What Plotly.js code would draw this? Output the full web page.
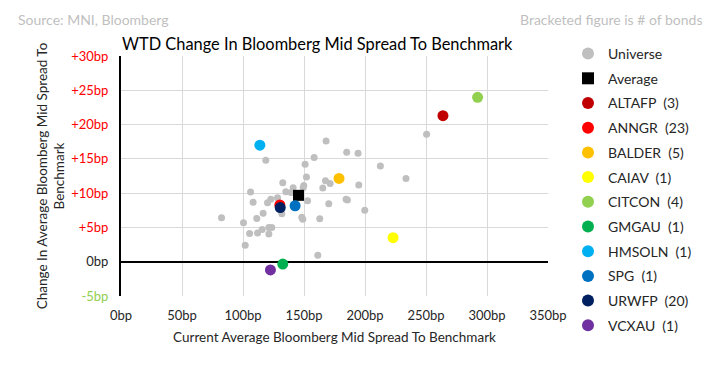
<!DOCTYPE html>
<html><head><meta charset="utf-8">
<script src="https://cdn.plot.ly/plotly-3.0.1.min.js"></script>
<style>body{margin:0;padding:0;background:#fff}#chart{width:706px;height:377px}</style>
</head><body><div id="chart"></div>
<script>
// Universe (grey) points: current spread (bp) and WTD change (bp)
const universeX = [168.1,118.7,158.3,150.9,152.0,167.6,171.4,165.4,149.8,149.3,132.6,141.1,135.1,139.4,106.2,108.3,120.1,122.8,128.3,152.9,170.3,131.8,116.5,111.3,82.4,100.4,105.4,111.9,115.7,121.2,123.6,121.2,101.8,148.2,149.0,162.9,161.3,185.0,194.3,212.6,233.6,194.9,184.5,185.6,199.8,250.5];
const universeY = [17.6,14.8,15.2,14.2,12.35,11.8,11.4,10.74,11.1,10.8,11.5,10.8,10.2,10.1,10.16,8.66,8.6,9.1,9.33,8.9,8.46,7.0,7.05,6.3,6.4,5.7,4.1,4.2,4.7,5.0,5.0,4.04,2.4,6.47,6.2,6.27,0.93,15.95,15.8,13.95,12.15,11.2,9.1,9.0,7.5,18.6];
const averageX = [145.5];
const averageY = [9.68];
// Issuers
const issuerNames  = ["ALTAFP  (3)","ANNGR  (23)","BALDER  (5)","CAIAV  (1)","CITCON  (4)","GMGAU  (1)","HMSOLN  (1)","SPG  (1)","URWFP  (20)","VCXAU  (1)"];
const issuerX      = [263.9, 130.2, 178.7, 223.0, 292.3, 132.6, 113.8, 142.7, 130.5, 122.5];
const issuerY      = [21.3, 8.27, 12.15, 3.5, 23.97, -0.34, 17.0, 8.16, 7.9, -1.2];
const issuerColors = ["#c00000","#ff0000","#ffc000","#ffff00","#92d050","#00b050","#00b0f0","#0070c0","#002060","#7030a0"];
// Axis ticks
const xTickVals = [0,50,100,150,200,250,300,350];
const xTickText = ["0bp","50bp","100bp","150bp","200bp","250bp","300bp","350bp"];
const yTickVals = [-5,0,5,10,15,20,25,30];
const yTickText = ['<span style="color:#92d050">-5bp</span>','0bp','<span style="color:#ff0000">+5bp</span>','<span style="color:#ff0000">+10bp</span>','<span style="color:#ff0000">+15bp</span>','<span style="color:#ff0000">+20bp</span>','<span style="color:#ff0000">+25bp</span>','<span style="color:#ff0000">+30bp</span>'];

const FONT = "Lato, 'Open Sans', sans-serif";
const traces = [];
traces.push({type:'scatter',mode:'markers',name:'Universe',x:universeX,y:universeY,
  marker:{color:'#bfbfbf',size:7},legendgroup:'u'});
traces.push({type:'scatter',mode:'markers',name:'Average',x:averageX,y:averageY,
  marker:{color:'#000000',size:11,symbol:'square'},legendgroup:'a'});
issuerNames.forEach((n,i)=>{
  traces.push({type:'scatter',mode:'markers',name:n,x:[issuerX[i]],y:[issuerY[i]],
    marker:{color:issuerColors[i],size:11},legendgroup:'g'+i});
});

const layout = {
  width:706,height:377,
  margin:{l:121,r:158,t:56,b:81,autoexpand:false},
  paper_bgcolor:'#fff',plot_bgcolor:'#fff',
  font:{family:FONT,size:13,color:'#262626'},
  title:{text:'WTD Change In Bloomberg Mid Spread To Benchmark',x:122/706,xanchor:'left',xref:'container',
    y:1-44/377,yanchor:'middle',yref:'container',font:{family:FONT,size:16.4,color:'#000'}},
  xaxis:{range:[0,350],tickvals:xTickVals,ticktext:xTickText,showgrid:true,gridcolor:'#d9d9d9',gridwidth:1,
    zeroline:false,showline:false,ticks:'',ticklabelstandoff:10,tickfont:{size:13,color:'#262626'},
    title:{text:'Current Average Bloomberg Mid Spread To Benchmark',font:{size:13.5,color:'#262626'},standoff:10},fixedrange:true},
  yaxis:{range:[-5,30],tickvals:yTickVals,ticktext:yTickText,showgrid:true,gridcolor:'#d9d9d9',gridwidth:1,
    zeroline:true,zerolinecolor:'#000',zerolinewidth:2,showline:true,linecolor:'#000',linewidth:2,
    ticks:'',ticklabelstandoff:8,tickfont:{size:13,color:'#262626'},
    title:{text:'Change In Average Bloomberg Mid Spread To<br>Benchmark',font:{size:13.5,color:'#262626'},standoff:3},fixedrange:true},
  showlegend:true,
  legend:{x:(568-121)/427,xanchor:'left',y:(296-38)/240,yanchor:'top',font:{size:14,color:'#262626'},tracegroupgap:3.5,
    itemsizing:'constant',bgcolor:'rgba(0,0,0,0)',maxheight:360},
  annotations:[
    {text:'Source: MNI, Bloomberg',xref:'paper',yref:'paper',x:(16-121)/427,y:(296-19)/240,xanchor:'left',yanchor:'middle',
      showarrow:false,font:{size:14,color:'#bfbfbf'}},
    {text:'Bracketed figure is # of bonds',xref:'paper',yref:'paper',x:(704-121)/427,y:(296-19)/240,xanchor:'right',yanchor:'middle',
      showarrow:false,font:{size:14,color:'#bfbfbf'}}
  ]
};
Plotly.newPlot('chart',traces,layout,{displayModeBar:false,staticPlot:true});
</script></body></html>
